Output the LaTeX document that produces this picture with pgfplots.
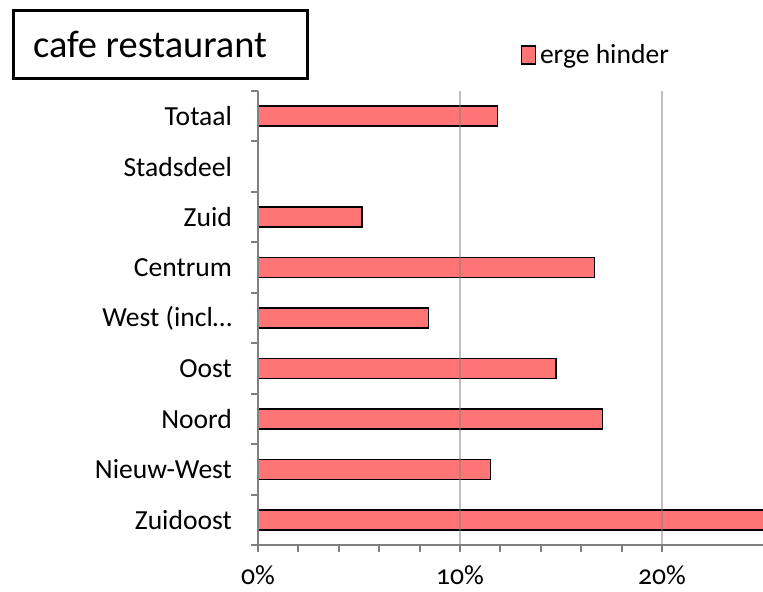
\documentclass[border=0pt]{standalone}
\usepackage{pgfplots}
\pgfplotsset{compat=1.18}
\usepackage{fontspec}
\setmainfont{Carlito}[Numbers=OldStyle]
\definecolor{barred}{RGB}{255,117,117}
\begin{document}
\begin{tikzpicture}[x=1pt,y=1pt]
\useasboundingbox (0,0) rectangle (381.5,295.5);
\draw[line width=1.5pt] (6.5,256.5) rectangle (153.5,290.5);
\node[font=\fontsize{19.2}{22}\selectfont] at (75,273.5) {cafe restaurant};
\begin{axis}[
  at={(129pt,23pt)}, anchor=south west, scale only axis,
  width=252.5pt, height=227pt,
  xbar, bar width=10pt,
  xmin=0, xmax=25, ymin=-0.5, ymax=8.5,
  axis lines=left, axis line style={-, draw=gray, line width=1pt},
  axis on top,
  tick align=outside,
  ytick={0,...,8},
  yticklabels={Zuidoost,Nieuw-West,Noord,Oost,West (incl…,Centrum,Zuid,Stadsdeel,Totaal},
  ytick style={draw=none},
  minor ytick={-0.5,0.5,...,8.5},
  minor y tick style={draw=gray, line width=1pt},
  xtick={0,10,20},
  xticklabels={0\%,10\%,20\%},
  minor x tick num=4,
  major tick length=3.5pt, minor tick length=3.5pt,
  x tick style={draw=gray, line width=1pt},
  xmajorgrids,
  major grid style={draw=gray, draw opacity=0.5, line width=0.75pt},
  tick label style={font=\fontsize{13.8}{16}\selectfont},
  yticklabel style={xshift=-6pt},
  xticklabel style={yshift=-3.5pt},
  legend style={at={(0.519,1.079)}, anchor=west, draw=none, fill=none,
    font=\fontsize{13.8}{16}\selectfont, inner sep=0pt},
  legend image code/.code={\draw[#1] (0pt,-4.5pt) rectangle (7pt,4.5pt);},
]
\addplot[fill=barred, draw=black, line width=0.75pt] coordinates {
  (11.85,8) (5.15,6) (16.65,5) (8.45,4) (14.75,3) (17.05,2) (11.5,1) (27,0)};
\addlegendentry{erge hinder}
\end{axis}
\end{tikzpicture}
\end{document}
